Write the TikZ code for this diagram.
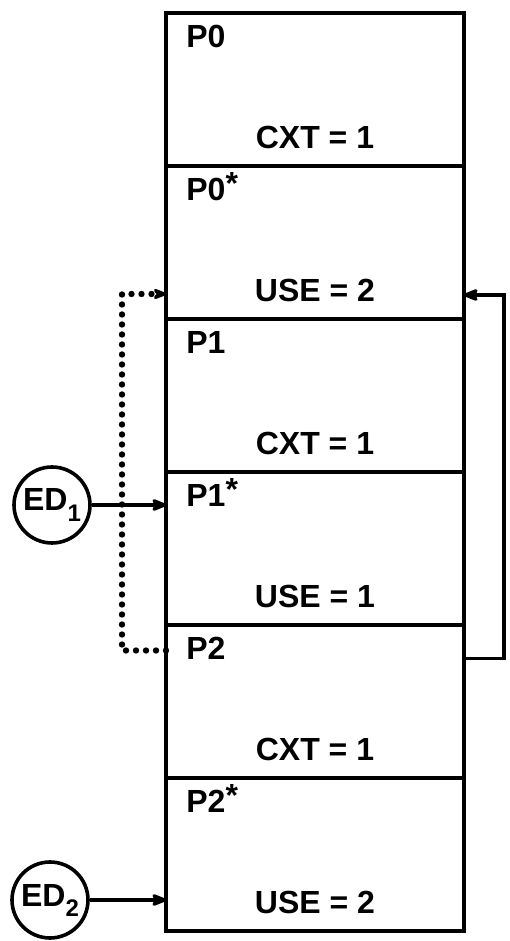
\documentclass[tikz,border=0pt]{standalone}
\usepackage{fontspec}
\setmainfont{Liberation Sans}
\usetikzlibrary{arrows.meta,positioning}
\newcommand{\pstar}{\raisebox{3pt}{*}}
\newcommand{\edsub}[1]{ED\raisebox{-5pt}{\fontsize{12}{12}\selectfont #1}}

\begin{document}
\begin{tikzpicture}[
  x=0.5pt, y=0.5pt,
  >={Stealth[round,length=10pt,width=8pt]},
  font=\fontsize{16}{19}\selectfont\bfseries,
  cell/.style={draw, line width=2pt, minimum width=149pt, minimum height=76.5pt, inner sep=0pt, outer sep=0pt},
  tag/.style={inner sep=0pt, anchor=base west},
  val/.style={inner sep=0pt, anchor=base},
  ed/.style={draw, circle, line width=1.8pt, minimum size=38pt, inner sep=0pt},
  arr/.style={->, line width=1.8pt},
  dots/.style={-{Stealth[round,length=9pt,width=7pt]}, line width=3.2pt, line cap=round, dash pattern=on 0pt off 5pt}
]
\useasboundingbox (0,0) rectangle (509,941);
% stack of contexts
\node[cell] (p0) at (315,851.5) {};
\node[cell, below=0pt of p0] (p0s) {};
\node[cell, below=0pt of p0s] (p1) {};
\node[cell, below=0pt of p1] (p1s) {};
\node[cell, below=0pt of p1s] (p2) {};
\node[cell, below=0pt of p2] (p2s) {};
\foreach \c/\t/\v in {p0/P0/CXT = 1, p0s/P0\pstar/USE = 2, p1/P1/CXT = 1, p1s/P1\pstar/USE = 1, p2/P2/CXT = 1, p2s/P2\pstar/USE = 2} {
  \node[tag] (\c-name) at ([xshift=10pt,yshift=-17.5pt]\c.north west) {\t};
  \node[val] (\c-count) at ([yshift=8.5pt]\c.south) {\v};
}
% entry descriptors
\node[ed] (ed1) at (52,436) {\edsub{1}};
\node[ed] (ed2) at (50,41) {\edsub{2}};
% links back to P0*
\coordinate (dotturn) at (122,647);
\coordinate (backturn) at (504,646);
\draw[dots] ([yshift=25.5pt]p2.west) -| (dotturn) |- (p0s.west |- dotturn);
\draw[arr] ([yshift=21.5pt]p2.east) -| (backturn) |- (p0s.east |- backturn);
% arrows
\draw[arr] (ed1) -- (ed1 -| p1s.west);
\draw[arr] (ed2) -- (ed2 -| p2s.west);
\end{tikzpicture}
\end{document}
